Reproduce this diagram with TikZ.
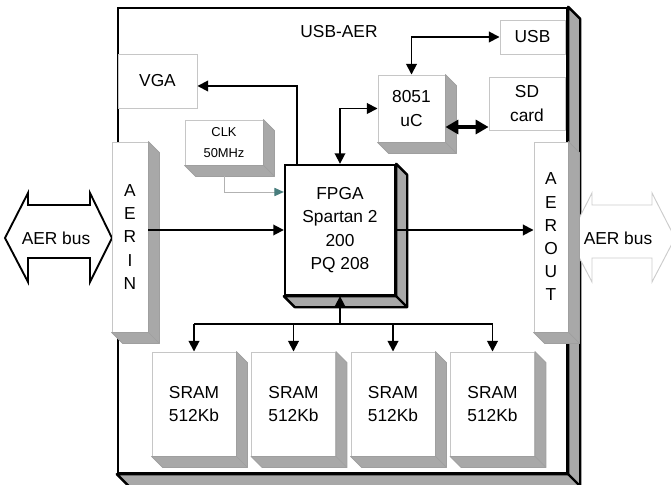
\documentclass[tikz,border=0pt]{standalone}
\usepackage{fontspec}
\setmainfont{Liberation Sans}
\usetikzlibrary{arrows.meta,positioning,calc}

\definecolor{clkteal}{RGB}{72,125,125}

\tikzset{
  lbl/.style={font=\fontsize{14.8}{19.8}\selectfont, align=center},
  flatbox/.style={draw=gray!45, fill=white, line width=0.8pt, lbl, inner sep=0pt},
  shadowface/.style={draw=gray!75, fill=gray!68, line width=0.6pt, line join=round},
  boldface/.style={draw=black, fill=gray!68, line width=2pt, line join=round},
  sig/.style={line width=1.5pt, -{Triangle[length=9pt,width=9pt]}},
  bisig/.style={line width=1.5pt, {Triangle[length=9pt,width=9pt]}-{Triangle[length=9pt,width=9pt]}},
}

% shaded side and bottom of a box
\newcommand\boxshadow[3][shadowface]{%
  \path (#2.north east) ++(#3,#3) coordinate (s-ne)
        (#2.south east) ++(#3,#3) coordinate (s-se)
        (#2.south west) ++(#3,#3) coordinate (s-sw);
  \filldraw[#1] (#2.north east) -- (s-ne) -- (s-se) -- (s-sw)
    -- (#2.south west) -- (#2.south east) -- cycle;
  \draw[#1] (#2.south east) -- (s-se);}

\begin{document}
\begin{tikzpicture}[x=0.03cm, y=-0.03cm]
\useasboundingbox (0,0) rectangle (671,485);

% board
\node[draw, fill=white, line width=2pt, minimum width=13.47cm, minimum height=13.95cm, inner sep=0pt] (board) at (342.5,240.5) {};
\boxshadow[boldface]{board}{12}
\node[lbl] (title) at (339,32) {USB-AER};

% bus arrows
\draw[line width=1.6pt, fill=white] (5,238) -- (28,193) -- (28,205) -- (90,205) -- (90,193) -- (112,238)
  -- (90,282) -- (90,258) -- (28,258) -- (28,282) -- cycle;
\node[lbl] (busin) at (56,238) {AER bus};
\draw[gray!40, line width=0.8pt, fill=white] (569,238) -- (592,193) -- (592,205) -- (652,205) -- (652,193) -- (675,238)
  -- (652,282) -- (652,258) -- (592,258) -- (592,282) -- cycle;
\node[lbl] (busout) at (618,238) {AER bus};

% blocks
\node[flatbox, minimum width=2.37cm, minimum height=1.62cm] (vga) at (157.5,81) {VGA};
\node[flatbox, minimum width=1.95cm, minimum height=1.02cm] (usb) at (532.5,37) {USB};
\node[flatbox, minimum width=2.28cm, minimum height=1.59cm] (sd) at (527,103.5) {SD\\card};
\node[flatbox, minimum width=2.01cm, minimum height=2.01cm] (uc) at (411.5,108.5) {8051\\uC};
\node[flatbox, font=\fontsize{11}{18}\selectfont, minimum width=2.34cm, minimum height=1.35cm] (clk) at (224,142.5) {CLK\\50MHz};
\node[flatbox, minimum width=1.08cm, minimum height=5.7cm] (ain) at (130,237) {A\\E\\R\\I\\N};
\node[flatbox, minimum width=1.02cm, minimum height=5.7cm] (aout) at (551,237) {A\\E\\R\\O\\U\\T};
\node[flatbox, draw=black, line width=2pt, minimum width=3.3cm, minimum height=3.9cm] (fpga) at (340,230) {FPGA\\Spartan 2\\200\\PQ 208};
\foreach \i in {1,...,4}
  \node[flatbox, minimum width=2.52cm, minimum height=3.12cm] (sram\i) at ({194+99.5*(\i-1)},404) {SRAM\\512Kb};

% shadows
\foreach \b in {clk,ain,aout,uc,sram1,sram2,sram3,sram4} {\boxshadow{\b}{11}}
\boxshadow[boldface]{fpga}{11}

% signals
\draw[sig] (ain.east |- fpga.west) -- (fpga.west);
\draw[sig] (fpga.east) -- (aout.west |- fpga.east);
\draw[sig] ([xshift=-1.29cm]fpga.north) |- ([yshift=-0.15cm]vga.east);
\draw[bisig] (fpga.north) |- (uc.west);
\draw[bisig] (uc.north) |- (usb.west);
\draw[line width=2.6pt, {Triangle[length=11pt,width=12pt]}-{Triangle[length=11pt,width=12pt]}]
  ([yshift=-0.555cm]uc.east) -- ([yshift=-0.555cm]uc.east -| sd.west);
\draw[gray!60, line width=0.8pt, -{Triangle[length=8pt,width=7pt,color=clkteal]}]
  ([yshift=-0.33cm]clk.south) |- ([yshift=1.14cm]fpga.west);

% memory bus
\coordinate (bus) at (340,324);
\draw[sig] (bus) -- (fpga.south);
\draw[line width=1.5pt] (sram1.north |- bus) -- (sram4.north |- bus);
\foreach \i in {1,...,4}
  \draw[sig] (sram\i.north |- bus) -- (sram\i.north);
\end{tikzpicture}
\end{document}
